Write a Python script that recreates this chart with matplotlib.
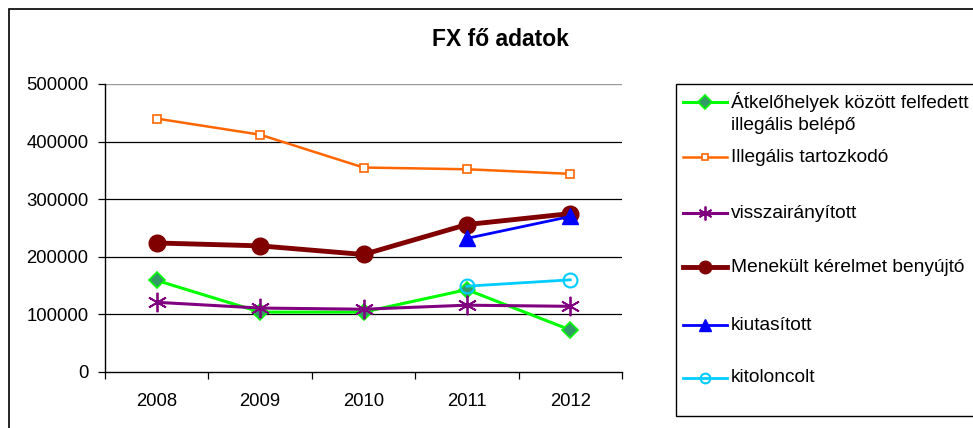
import matplotlib.pyplot as plt
from matplotlib.lines import Line2D
from matplotlib.patches import Rectangle

plt.rcParams['font.family'] = ['Liberation Sans', 'DejaVu Sans']

# ---- data ----
years = ['2008', '2009', '2010', '2011', '2012']
atkelo = [159000, 104000, 104000, 143000, 73000]
illegalis = [440000, 412000, 355000, 352000, 344000]
visszairanyitott = [121000, 111000, 109000, 116000, 114000]
menekult = [224000, 219000, 204000, 256000, 275000]
kiutasitott = [None, None, None, 232000, 270000]
kitoloncolt = [None, None, None, 149000, 160000]

labels = ['Átkelőhelyek között felfedett\nillegális belépő',
          'Illegális tartozkodó',
          'visszairányított',
          'Menekült kérelmet benyújtó',
          'kiutasított',
          'kitoloncolt']

star6 = (6, 2, 0)
styles = [
    dict(color='#00FF00', lw=2.2, marker='D', ms=8, mfc='#339966', mec='#00FF00', mew=1.2),
    dict(color='#FF6600', lw=1.8, marker='s', ms=6, mfc='white', mec='#FF6600', mew=1.2),
    dict(color='#800080', lw=2.2, marker=star6, ms=14, mfc='#800080', mec='#800080', mew=1.3),
    dict(color='#800000', lw=3.5, marker='o', ms=12, mfc='#800000', mec='#800000', mew=1),
    dict(color='#0000FF', lw=2.0, marker='^', ms=11, mfc='#0000FF', mec='#0000FF', mew=1),
    dict(color='#00CCFF', lw=2.0, marker='o', ms=10, mfc='none', mec='#00CCFF', mew=1.5),
]
# smaller markers in the legend keys
legend_ms = [7, 5, 10, 9, 9, 7]
series = [atkelo, illegalis, visszairanyitott, menekult, kiutasitott, kitoloncolt]

FS = 13.3
LFS = 13.8
W, H = 973, 428
fig = plt.figure(figsize=(W / 100, H / 100), dpi=100)

# outer chart border (right and bottom edges fall outside the image)
fig.patches.append(Rectangle((9 / W, -0.1), 2, 1.1 - 9 / H, transform=fig.transFigure,
                             fill=False, ec='black', lw=1.2))

ax = fig.add_axes([105 / W, 1 - 372 / H, (622 - 105) / W, (372 - 84) / H])

x = list(range(len(years)))
for data, st in zip(series, styles):
    xs = [i for i, v in zip(x, data) if v is not None]
    ys = [v for v in data if v is not None]
    ax.plot(xs, ys, clip_on=False, zorder=3, **st)

ax.set_xlim(-0.5, 4.5)
ax.set_ylim(0, 500000)
ax.set_yticks([0, 100000, 200000, 300000, 400000, 500000])
ax.set_yticklabels(['0', '100000', '200000', '300000', '400000', '500000'], fontsize=FS)
for yv in [100000, 200000, 300000, 400000]:
    ax.axhline(yv, color='black', lw=0.9, zorder=1)
ax.axhline(500000, color='#999999', lw=1.0, zorder=1)

ax.set_xticks([i - 0.5 for i in range(len(years) + 1)])
ax.set_xticklabels([])
ax.set_xticks(x, minor=True)
ax.set_xticklabels(years, minor=True, fontsize=FS)
ax.tick_params(axis='x', which='minor', length=0, pad=15)
ax.tick_params(axis='x', which='major', length=5, width=0.9, direction='out')
ax.tick_params(axis='y', length=5, width=0.9, direction='out', pad=7)

for side in ['top', 'right']:
    ax.spines[side].set_visible(False)
ax.spines['left'].set_linewidth(1.0)
ax.spines['bottom'].set_linewidth(1.0)

fig.text(500 / W, 1 - 40 / H, 'FX fő adatok', ha='center', va='center',
         fontsize=16.5, fontweight='bold')

# legend box (extends past the right edge like the original)
fig.patches.append(Rectangle((676 / W, 1 - 416 / H), 0.5, (416 - 84) / H,
                             transform=fig.transFigure, fill=False, ec='black', lw=1.0))
entry_y = [102, 157, 213, 267, 325, 378]
for yy, lab, st, lms in zip(entry_y, labels, styles, legend_ms):
    yf = 1 - yy / H
    ln = Line2D([683 / W, 705 / W, 727 / W], [yf, yf, yf], transform=fig.transFigure,
                markevery=[1], **st)
    ln.set_markersize(lms)
    fig.lines.append(ln)
    parts = lab.split('\n')
    fig.text(731 / W, yf, parts[0], ha='left', va='center', fontsize=LFS)
    if len(parts) > 1:
        fig.text(731 / W, yf - 24 / H, parts[1], ha='left', va='center', fontsize=LFS)

fig.savefig('out.png', dpi=100)
